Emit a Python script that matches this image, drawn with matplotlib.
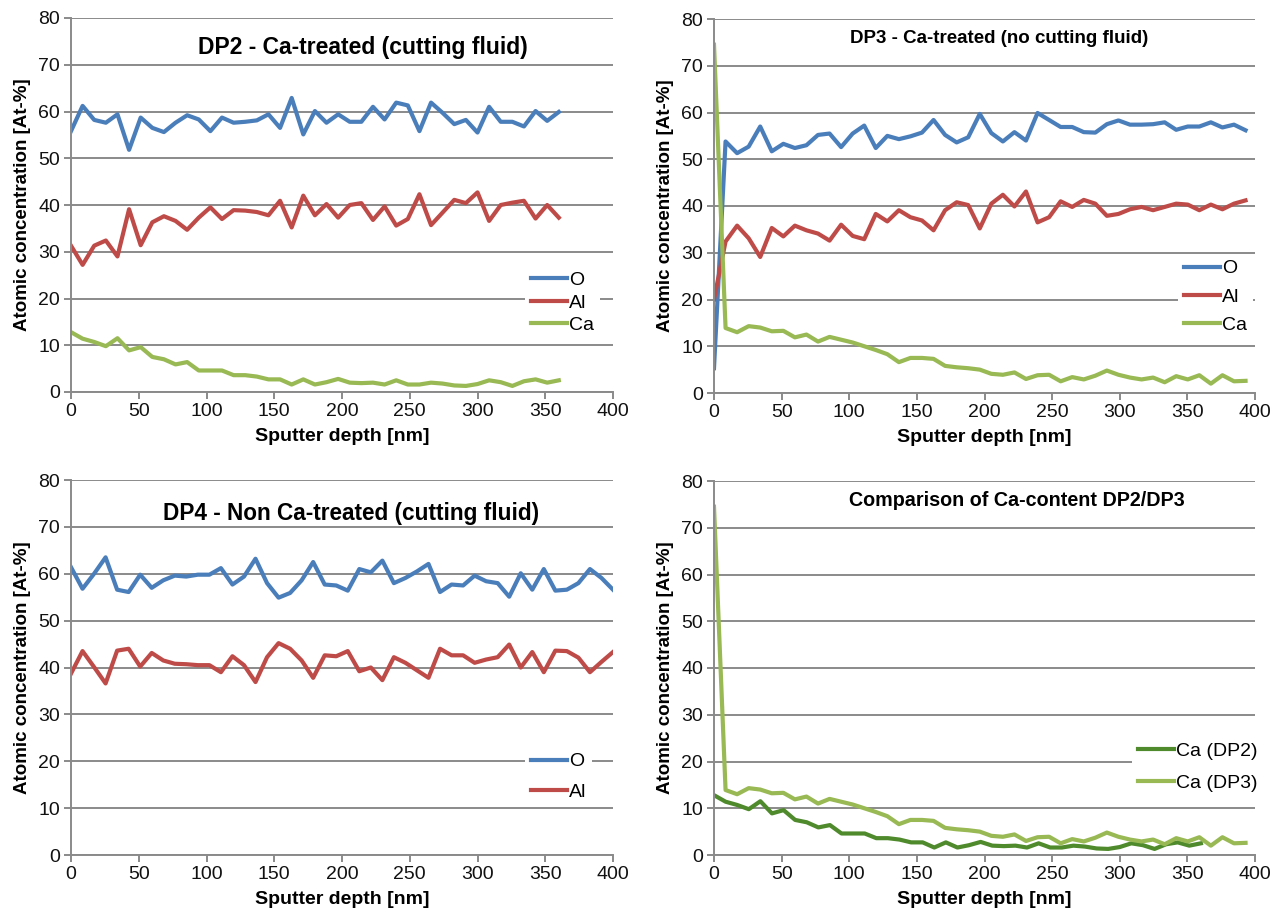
import numpy as np
import matplotlib
matplotlib.use("Agg")
import matplotlib.pyplot as plt

plt.rcParams['font.family'] = ['Liberation Sans', 'DejaVu Sans']

# Sputter depth grids [nm] (equidistant profile steps)
dp2_depth = np.linspace(0, 360, 43)
dp3_depth = np.linspace(0, 393, 47)
dp4_depth = np.linspace(0, 400, 48)

# DP2 - Ca-treated (cutting fluid) [At-%]
dp2_O = [55.8, 61.2, 58.2, 57.6, 59.4, 51.8, 58.7, 56.5, 55.6, 57.6, 59.2, 58.3,
         55.8, 58.7, 57.6, 57.8, 58.1, 59.4, 56.5, 62.9, 55.1, 60.1, 57.6, 59.4,
         57.8, 57.8, 61.0, 58.3, 61.9, 61.3, 55.8, 61.9, 59.7, 57.3, 58.2, 55.5,
         61.0, 57.8, 57.8, 56.8, 60.1, 58.0, 59.9]
dp2_Al = [31.3, 27.2, 31.3, 32.4, 29.0, 39.1, 31.4, 36.3, 37.6, 36.6, 34.7, 37.3,
          39.5, 37.0, 38.9, 38.8, 38.5, 37.8, 40.9, 35.2, 42.0, 37.8, 40.2, 37.3,
          40.0, 40.4, 36.8, 39.7, 35.6, 37.0, 42.3, 35.7, 38.4, 41.1, 40.4, 42.7,
          36.6, 40.0, 40.5, 40.9, 37.1, 40.0, 37.3]
dp2_Ca = [12.8, 11.4, 10.7, 9.8, 11.5, 8.9, 9.6, 7.5, 7.0, 5.9, 6.4, 4.6,
          4.6, 4.6, 3.6, 3.6, 3.3, 2.7, 2.7, 1.6, 2.7, 1.6, 2.1, 2.8,
          2.0, 1.9, 2.0, 1.6, 2.5, 1.6, 1.6, 2.0, 1.8, 1.4, 1.3, 1.7,
          2.5, 2.1, 1.3, 2.3, 2.7, 2.0, 2.5]

# DP3 - Ca-treated (no cutting fluid) [At-%]
dp3_O = [5.3, 53.8, 51.3, 52.7, 57.0, 51.7, 53.3, 52.4, 53.0, 55.2, 55.5, 52.6,
         55.5, 57.2, 52.4, 55.0, 54.3, 54.9, 55.7, 58.4, 55.2, 53.6, 54.7, 59.7,
         55.6, 53.8, 55.8, 54.0, 59.9, 58.4, 56.9, 56.9, 55.8, 55.7, 57.5, 58.3,
         57.4, 57.4, 57.5, 57.9, 56.3, 57.0, 57.0, 57.9, 56.8, 57.4, 56.2]
dp3_Al = [20.0, 32.4, 35.8, 33.1, 29.1, 35.3, 33.5, 35.8, 34.8, 34.1, 32.6, 36.0,
          33.6, 32.9, 38.3, 36.7, 39.1, 37.6, 36.9, 34.8, 39.1, 40.8, 40.2, 35.2,
          40.5, 42.4, 39.9, 43.1, 36.5, 37.6, 41.0, 39.8, 41.3, 40.5, 37.9, 38.3,
          39.3, 39.8, 39.1, 39.8, 40.5, 40.3, 39.1, 40.3, 39.3, 40.5, 41.2]
dp3_Ca = [74.5, 13.9, 13.0, 14.3, 14.0, 13.2, 13.3, 11.9, 12.5, 11.0, 12.0, 11.4,
          10.8, 10.0, 9.2, 8.3, 6.6, 7.5, 7.5, 7.3, 5.8, 5.5, 5.3, 5.0,
          4.1, 3.9, 4.4, 3.0, 3.8, 3.9, 2.5, 3.4, 2.9, 3.7, 4.8, 3.9,
          3.3, 2.9, 3.3, 2.3, 3.6, 2.9, 3.8, 2.0, 3.8, 2.5, 2.6]

# DP4 - Non Ca-treated (cutting fluid) [At-%]
dp4_O = [61.4, 56.8, 60.0, 63.5, 56.6, 56.1, 59.8, 57.0, 58.6, 59.6, 59.4, 59.8,
         59.8, 61.2, 57.7, 59.4, 63.2, 58.0, 54.9, 55.9, 58.6, 62.5, 57.7, 57.5,
         56.4, 61.0, 60.3, 62.8, 58.0, 59.1, 60.5, 62.1, 56.1, 57.7, 57.5, 59.6,
         58.4, 58.0, 55.1, 60.1, 56.6, 61.0, 56.4, 56.6, 58.0, 61.0, 59.1, 56.6]
dp4_Al = [38.7, 43.5, 40.1, 36.6, 43.6, 44.0, 40.2, 43.1, 41.5, 40.8, 40.7, 40.5,
          40.5, 39.0, 42.4, 40.5, 36.9, 42.2, 45.2, 44.0, 41.5, 37.8, 42.6, 42.4,
          43.5, 39.2, 40.0, 37.3, 42.2, 41.0, 39.4, 37.8, 44.0, 42.6, 42.6, 41.0,
          41.7, 42.2, 44.9, 40.0, 43.3, 39.0, 43.6, 43.5, 42.1, 39.0, 41.2, 43.3]

C_O = '#4A7EBB'
C_AL = '#BE4B48'
C_CA = '#98B954'
C_CA_DARK = '#4F8A2C'
GRID = '#8A8A8A'
LW = 3.0

fig = plt.figure(figsize=(12.8, 9.08), dpi=100)


def px_axes(x0, x1, ytop, ybot):
    W, H = 1280.0, 908.0
    return fig.add_axes([x0 / W, 1 - ybot / H, (x1 - x0) / W, (ybot - ytop) / H])


def style(ax):
    ax.set_xlim(0, 400)
    ax.set_ylim(0, 80)
    ax.set_xticks(range(0, 401, 50))
    ax.set_yticks(range(0, 81, 10))
    ax.grid(axis='y', color=GRID, lw=1.4)
    ax.set_axisbelow(True)
    for s in ('top', 'right'):
        ax.spines[s].set_visible(False)
    for s in ('left', 'bottom'):
        ax.spines[s].set_color(GRID)
        ax.spines[s].set_linewidth(1.4)
    ax.tick_params(direction='out', length=5, width=1.4, color=GRID,
                   labelsize=14, labelcolor='#111111', pad=3)
    ax.set_xlabel('Sputter depth [nm]', fontweight='bold', fontsize=14, labelpad=6)
    ax.set_ylabel('Atomic concentration [At-%]', fontweight='bold', fontsize=13.5, labelpad=5)


def legend(ax, handles, labels, x, y, spacing):
    ax.legend(handles, labels, loc='upper left', bbox_to_anchor=(x, y),
              frameon=True, fancybox=False, edgecolor='none', facecolor='white',
              framealpha=1, fontsize=14, handlelength=1.85, handletextpad=0.1,
              labelspacing=spacing, borderpad=0.3, borderaxespad=0)


# DP2
ax1 = px_axes(71, 613, 18, 392)
style(ax1)
l1, = ax1.plot(dp2_depth, dp2_O, color=C_O, lw=LW)
l2, = ax1.plot(dp2_depth, dp2_Al, color=C_AL, lw=LW)
l3, = ax1.plot(dp2_depth, dp2_Ca, color=C_CA, lw=LW)
ax1.text(0.539, 0.922, 'DP2 - Ca-treated (cutting fluid)', transform=ax1.transAxes,
         ha='center', va='center', fontsize=16.5, fontweight='bold')
legend(ax1, [l1, l2, l3], ['O', 'Al', 'Ca'], 0.838, 0.338, 0.25)

# DP3
ax2 = px_axes(714, 1255, 19, 393)
style(ax2)
m1, = ax2.plot(dp3_depth, dp3_O, color=C_O, lw=LW)
m2, = ax2.plot(dp3_depth, dp3_Al, color=C_AL, lw=LW)
m3, = ax2.plot(dp3_depth, dp3_Ca, color=C_CA, lw=LW)
ax2.text(0.527, 0.949, 'DP3 - Ca-treated (no cutting fluid)', transform=ax2.transAxes,
         ha='center', va='center', fontsize=13.5, fontweight='bold')
legend(ax2, [m1, m2, m3], ['O', 'Al', 'Ca'], 0.858, 0.372, 0.55)

# DP4
ax3 = px_axes(71, 613, 480, 855)
style(ax3)
n1, = ax3.plot(dp4_depth, dp4_O, color=C_O, lw=LW)
n2, = ax3.plot(dp4_depth, dp4_Al, color=C_AL, lw=LW)
ax3.text(0.517, 0.91, 'DP4 - Non Ca-treated (cutting fluid)', transform=ax3.transAxes,
         ha='center', va='center', fontsize=16.3, fontweight='bold')
legend(ax3, [n1, n2], ['O', 'Al'], 0.838, 0.288, 0.65)

# Ca comparison
ax4 = px_axes(714, 1255, 481, 855)
style(ax4)
k1, = ax4.plot(dp2_depth, dp2_Ca, color=C_CA_DARK, lw=LW)
k2, = ax4.plot(dp3_depth, dp3_Ca, color=C_CA, lw=LW)
ax4.text(0.56, 0.949, 'Comparison of Ca-content DP2/DP3', transform=ax4.transAxes,
         ha='center', va='center', fontsize=14.2, fontweight='bold')
legend(ax4, [k1, k2], ['Ca (DP2)', 'Ca (DP3)'], 0.773, 0.318, 0.77)

fig.savefig('out.png', dpi=100, facecolor='white')
